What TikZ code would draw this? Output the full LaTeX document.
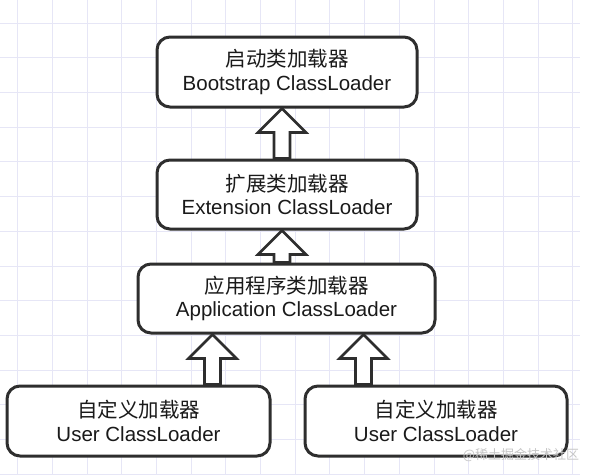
\documentclass[tikz,border=0pt]{standalone}
\usepackage{fontspec}
\setmainfont{Liberation Sans}
\newfontfamily\cjk{Noto Sans CJK SC}
\usetikzlibrary{calc}
\definecolor{gridc}{HTML}{E6E6F6}
\definecolor{edge}{HTML}{2E2E2E}
\definecolor{ink}{HTML}{1A1A1A}
\tikzset{
  loader/.style={draw=edge, line width=3pt, fill=white, rounded corners=13pt,
    text=ink, align=center, inner sep=0pt,
    font=\fontsize{20.5}{23.5}\selectfont},
  hollow/.style={draw=edge, line width=2.6pt, fill=white, line join=miter},
  gridline/.style={draw=gridc, line width=0.8pt},
  mark text/.style={text=gray!45, font=\cjk\fontsize{13}{15}\selectfont, inner sep=0pt}
}
\newcommand\hollowup[3]{%
  \draw[hollow] let \p1=(#1.north -| #3), \p2=(#2.south -| #3) in
    (\x1-8pt,\y1) -- (\x1-8pt,\y2-24pt) -- (\x1-24pt,\y2-24pt) -- (\x2,\y2)
    -- (\x1+24pt,\y2-24pt) -- (\x1+8pt,\y2-24pt) -- (\x1+8pt,\y1) -- cycle;}
\begin{document}
\begin{tikzpicture}[x=1pt,y=-1pt]
  \useasboundingbox[fill=white] (0,0) rectangle (591,475);
  % background grid
  \foreach \k in {0,...,16} {\draw[gridline] ({17.5+34.7*\k},0) -- ({17.5+34.7*\k},475);}
  \foreach \k in {0,...,13} {\draw[gridline] (0,{23+34.7*\k}) -- (580,{23+34.7*\k});}
  % loaders
  \node[loader, minimum width=260pt, minimum height=70pt] (boot) at (287,72)
    {{\cjk 启动类加载器}\\Bootstrap ClassLoader};
  \node[loader, minimum width=260pt, minimum height=69pt] (ext) at (287,194.5)
    {{\cjk 扩展类加载器}\\Extension ClassLoader};
  \node[loader, minimum width=297pt, minimum height=69pt] (app) at (286.5,298.5)
    {{\cjk 应用程序类加载器}\\Application ClassLoader};
  \node[loader, minimum width=263pt, minimum height=70pt] (user1) at (138.5,421)
    {{\cjk 自定义加载器}\\User ClassLoader};
  \node[loader, minimum width=262pt, minimum height=70pt] (user2) at (436,421)
    {{\cjk 自定义加载器}\\User ClassLoader};
  % arrow axes
  \coordinate (axmid) at (282,0);
  \coordinate (axleft) at (212.5,0);
  \coordinate (axright) at (363.5,0);
  % hollow arrows
  \hollowup{ext}{boot}{axmid}
  \hollowup{app}{ext}{axmid}
  \hollowup{user1}{app}{axleft}
  \hollowup{user2}{app}{axright}
  % watermark
  \node[mark text] (wm) at (521,455) {@稀土掘金技术社区};
\end{tikzpicture}
\end{document}
